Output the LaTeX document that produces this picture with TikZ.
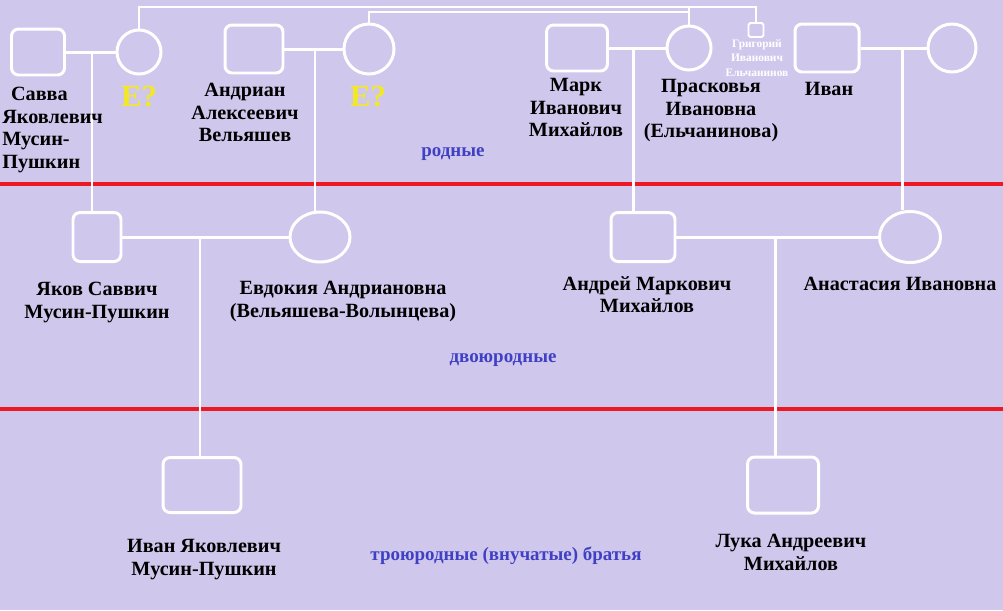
\documentclass[tikz,border=0pt]{standalone}
\usepackage{fontspec}
\setmainfont{Liberation Serif}
\usetikzlibrary{shapes.geometric}

\definecolor{bgviolet}{RGB}{208,200,236}
\definecolor{divred}{RGB}{236,24,36}
\definecolor{kinblue}{RGB}{64,64,196}
\definecolor{qyellow}{RGB}{242,232,40}

\begin{document}
\begin{tikzpicture}[x=0.02cm, y=-0.02cm,
  male/.style={draw=white, line width=1.7pt, rounded corners=4pt, inner sep=0pt},
  female/.style={draw=white, line width=1.7pt, ellipse, inner sep=0pt},
  nametext/.style={inner sep=0pt, align=center, anchor=north,
    font=\bfseries\fontsize{11.5}{12.8}\selectfont},
  unknown/.style={inner sep=0pt, anchor=north, text=qyellow,
    font=\bfseries\fontsize{17.5}{20}\selectfont},
  kintext/.style={inner sep=0pt, text=kinblue,
    font=\bfseries\fontsize{10.8}{12}\selectfont},
  bondline/.style={draw=white, line width=1.7pt},
  sibline/.style={draw=white, line width=0.6pt},
  divider/.style={draw=divred, line width=2.1pt}]

  % Background
  \fill[bgviolet] (0,0) rectangle (1003,610);
  \useasboundingbox (0,0) rectangle (1003,610);

  % Generation dividers
  \draw[divider] (0,184) -- (1003,184);
  \draw[divider] (0,409) -- (1003,409);

  % Top couples
  \node[male, minimum width=1.06cm, minimum height=0.92cm] (savva) at (38,52) {};
  \node[female, minimum size=0.88cm] (savvaW) at (139,52) {};
  \node[male, minimum width=1.16cm, minimum height=0.96cm] (andrian) at (254,49) {};
  \node[female, minimum size=1.0cm] (andrianW) at (369,49) {};
  \node[male, minimum width=1.22cm, minimum height=0.92cm] (mark) at (577,48) {};
  \node[female, minimum size=0.88cm] (praskovia) at (689,48) {};
  \node[male, minimum width=0.3cm, minimum height=0.28cm, rounded corners=1pt,
    line width=1.1pt] (grigory) at (756,30) {};
  \node[male, minimum width=1.28cm, minimum height=0.96cm] (ivan) at (827,48) {};
  \node[female, minimum size=0.96cm] (ivanW) at (952,48) {};

  % Middle couples
  \node[male, minimum width=0.96cm, minimum height=0.98cm] (yakov) at (97,237) {};
  \node[female, minimum width=1.2cm, minimum height=1.0cm] (evdokia) at (320,237) {};
  \node[male, minimum width=1.28cm, minimum height=0.98cm] (andrei) at (643,237) {};
  \node[female, minimum width=1.22cm, minimum height=1.02cm] (anastasia) at (910,237) {};

  % Grandsons
  \node[male, minimum width=1.56cm, minimum height=1.1cm] (ivanY) at (202,485) {};
  \node[male, minimum width=1.42cm, minimum height=1.12cm] (luka) at (783,485) {};

  % Marriage lines and descents
  \coordinate (m1) at (92,52);
  \coordinate (m2) at (315,49);
  \coordinate (m3) at (633,48);
  \coordinate (m4) at (902,48);
  \coordinate (m5) at (200,237);
  \coordinate (m6) at (775,237);
  \draw[bondline] (savva) -- (savvaW);
  \draw[bondline] (andrian) -- (andrianW);
  \draw[bondline] (mark) -- (praskovia);
  \draw[bondline] (ivan) -- (ivanW);
  \draw[bondline] (yakov) -- (evdokia);
  \draw[bondline] (andrei) -- (anastasia);
  \draw[bondline] (m1) -- (m1 |- yakov.north);
  \draw[bondline] (m2) -- (m2 |- evdokia.north);
  \draw[bondline] (m3) -- (m3 |- andrei.north);
  \draw[bondline] (m4) -- (m4 |- anastasia.north);
  \draw[bondline] (m5) -- (m5 |- ivanY.north);
  \draw[bondline] (m6) -- (m6 |- luka.north);

  % Siblings of Praskovia
  \coordinate (sib1) at (689,7);
  \coordinate (sib2) at (689,12);
  \draw[sibline] (savvaW.north) |- (sib1) -- (praskovia.north);
  \draw[sibline] (andrianW.north) |- (sib2);
  \draw[sibline] (sib1) -| (grigory.north);

  % Names
  \node[nametext, anchor=north west, align=left] (savvaN) at (2,87)
    {\hspace*{5pt}Савва\\Яковлевич\\Мусин-\\Пушкин};
  \node[unknown] (savvaWN) at (139,86) {Е?};
  \node[nametext] (andrianN) at (245,83) {Андриан\\Алексеевич\\Вельяшев};
  \node[unknown] (andrianWN) at (368,86) {Е?};
  \node[nametext] (markN) at (576,78) {Марк\\Иванович\\Михайлов};
  \node[nametext] (praskoviaN) at (711,79) {Прасковья\\Ивановна\\(Ельчанинова)};
  \node[inner sep=0pt, anchor=north, align=center, text=white,
    font=\bfseries\fontsize{6.5}{8.3}\selectfont] (grigoryN) at (757,39)
    {Григорий\\Иванович\\Ельчанинов};
  \node[nametext] (ivanN) at (829,82) {Иван};
  \node[nametext] (yakovN) at (97,282) {Яков Саввич\\Мусин-Пушкин};
  \node[nametext] (evdokiaN) at (343,281) {Евдокия Андриановна\\(Вельяшева-Волынцева)};
  \node[nametext] (andreiN) at (647,276) {Андрей Маркович\\Михайлов};
  \node[nametext] (anastasiaN) at (900,277) {Анастасия Ивановна};
  \node[nametext] (ivanYN) at (204,539) {Иван Яковлевич\\Мусин-Пушкин};
  \node[nametext] (lukaN) at (791,534) {Лука Андреевич\\Михайлов};

  % Kinship degrees
  \node[kintext] (deg1) at (453,154) {родные};
  \node[kintext] (deg2) at (503,360) {двоюродные};
  \node[kintext] (deg3) at (506,556) {троюродные (внучатые) братья};
\end{tikzpicture}
\end{document}
